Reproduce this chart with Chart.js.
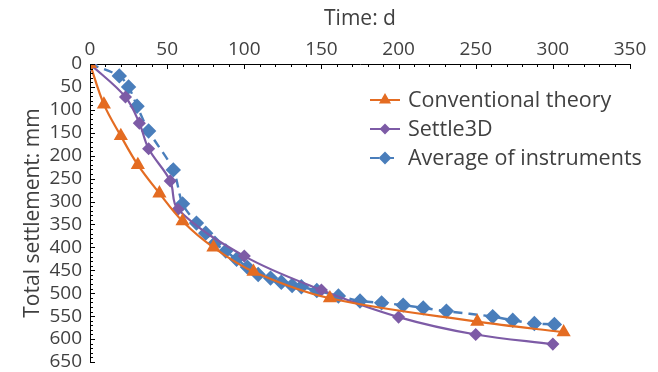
<!DOCTYPE html>
<html>
<head>
<meta charset="utf-8">
<script src="https://cdn.jsdelivr.net/npm/chart.js@4"></script>
<style>
  html, body { margin: 0; padding: 0; background: #fff; }
  #wrap { width: 658px; height: 372px; position: relative; }
</style>
</head>
<body>
<div id="wrap"><canvas id="settle"></canvas></div>
<script>
// time (d) and total settlement (mm) for each series
const convDays = [0, 9, 20, 31, 45, 60, 80, 106, 155.5, 251, 307];
const convMm   = [0, 88, 157, 220, 282, 343, 400, 453, 511, 562, 585];

const settleDays = [0, 23, 32, 38, 52, 57, 100, 150, 200, 250, 300];
const settleMm   = [0, 72, 129, 185, 255, 317, 419, 493, 552, 590, 611];

const instDays = [0, 19, 25, 30.5, 38, 54, 60, 69, 75, 81, 88, 95, 102, 109, 117, 124, 131, 137, 147, 161, 175, 189, 203, 216, 231, 261, 274, 288, 301];
const instMm   = [0, 26, 50, 92, 146, 231, 305, 347, 369, 391, 408, 426, 443, 459, 467, 476, 483, 486, 494, 506, 517, 521, 526, 532, 539, 551, 559, 566, 568];

const xTicks = [0, 50, 100, 150, 200, 250, 300, 350];
const yTicks = [0, 50, 100, 150, 200, 250, 300, 350, 400, 450, 500, 550, 600, 650];

const txt = '#404040';
const family = '"Open Sans", "Noto Sans", sans-serif';
const tickFont = { family: family, size: 19, lineHeight: 1.1 };
const titleFont = { family: family, size: 21 };

function pts(xs, ys) { return xs.map((x, i) => ({ x: x, y: ys[i] })); }

// inward major/minor tick marks on the top and left axes
const tickMarks = {
  id: 'tickMarks',
  afterDraw(chart) {
    const { ctx, scales: { x, y } } = chart;
    ctx.save();
    ctx.strokeStyle = '#000';
    ctx.lineWidth = 1;
    ctx.beginPath();
    for (let v = 0; v <= 350; v += 10) {
      const px = Math.round(x.getPixelForValue(v)) + 0.5;
      const len = v % 50 === 0 ? 5 : 3;
      ctx.moveTo(px, y.top); ctx.lineTo(px, y.top + len);
    }
    for (let v = 0; v <= 650; v += 10) {
      const py = Math.round(y.getPixelForValue(v)) + 0.5;
      const len = v % 50 === 0 ? 5 : 3;
      ctx.moveTo(x.left, py); ctx.lineTo(x.left + len, py);
    }
    ctx.stroke();
    ctx.restore();
  }
};

// legend drawn inside the plot area
const innerLegend = {
  id: 'innerLegend',
  afterDraw(chart) {
    const ctx = chart.ctx;
    const x0 = 370, y0 = 100, gap = 29;
    ctx.save();
    chart.data.datasets.forEach((ds, i) => {
      const yy = y0 + i * gap;
      ctx.strokeStyle = ds.borderColor;
      ctx.lineWidth = 2;
      ctx.setLineDash(ds.borderDash || []);
      ctx.beginPath();
      ctx.moveTo(x0, yy); ctx.lineTo(x0 + 30, yy);
      ctx.stroke();
      ctx.setLineDash([]);
      ctx.fillStyle = ds.borderColor;
      Chart.helpers.drawPoint(ctx, {
        pointStyle: ds.pointStyle, radius: ds.pointRadius - 1, borderWidth: 1
      }, x0 + 15, yy);
      ctx.fillStyle = txt;
      ctx.font = '21.5px ' + family;
      ctx.textBaseline = 'middle';
      ctx.fillText(ds.label, x0 + 38, yy + 1);
    });
    ctx.restore();
  }
};

new Chart(document.getElementById('settle'), {
  type: 'line',
  data: {
    datasets: [
      {
        label: 'Conventional theory',
        data: pts(convDays, convMm),
        borderColor: '#E46C22', backgroundColor: '#E46C22',
        borderWidth: 2.2, pointStyle: 'triangle', pointRadius: 6,
        tension: 0.35
      },
      {
        label: 'Settle3D',
        data: pts(settleDays, settleMm),
        borderColor: '#7D5BA6', backgroundColor: '#7D5BA6',
        borderWidth: 2.2, pointStyle: 'rectRot', pointRadius: 5,
        tension: 0.35
      },
      {
        label: 'Average of instruments',
        data: pts(instDays, instMm),
        borderColor: '#4A7EBB', backgroundColor: '#4A7EBB',
        borderWidth: 2.4, borderDash: [9, 6], pointStyle: 'rectRot', pointRadius: 6,
        tension: 0.3
      }
    ]
  },
  options: {
    responsive: true,
    maintainAspectRatio: false,
    animation: false,
    layout: { padding: { left: 0, right: 28, top: 0, bottom: 10 } },
    plugins: { legend: { display: false }, tooltip: { enabled: false } },
    scales: {
      x: {
        type: 'linear', position: 'top', min: 0, max: 350,
        afterBuildTicks: s => { s.ticks = xTicks.map(v => ({ value: v })); },
        afterFit: s => { s.height = 64; s.paddingLeft = 0; s.paddingRight = 0; },
        grid: { display: false, drawTicks: false },
        border: { display: true, color: '#000', width: 1 },
        ticks: { color: txt, font: tickFont, padding: 4, maxRotation: 0, autoSkip: false },
        title: { display: true, text: 'Time: d', color: txt, font: titleFont, padding: { top: 6, bottom: 0 } }
      },
      y: {
        type: 'linear', reverse: true, min: 0, max: 650,
        afterBuildTicks: s => { s.ticks = yTicks.map(v => ({ value: v })); },
        afterFit: s => { s.width = 90; s.paddingTop = 0; s.paddingBottom = 0; },
        grid: { display: false, drawTicks: false },
        border: { display: true, color: '#000', width: 1 },
        ticks: { color: txt, font: tickFont, padding: 8, autoSkip: false },
        title: { display: true, text: 'Total settlement: mm', color: txt, font: titleFont, padding: { top: 20, bottom: 0 } }
      }
    }
  },
  plugins: [tickMarks, innerLegend]
});
</script>
</body>
</html>
